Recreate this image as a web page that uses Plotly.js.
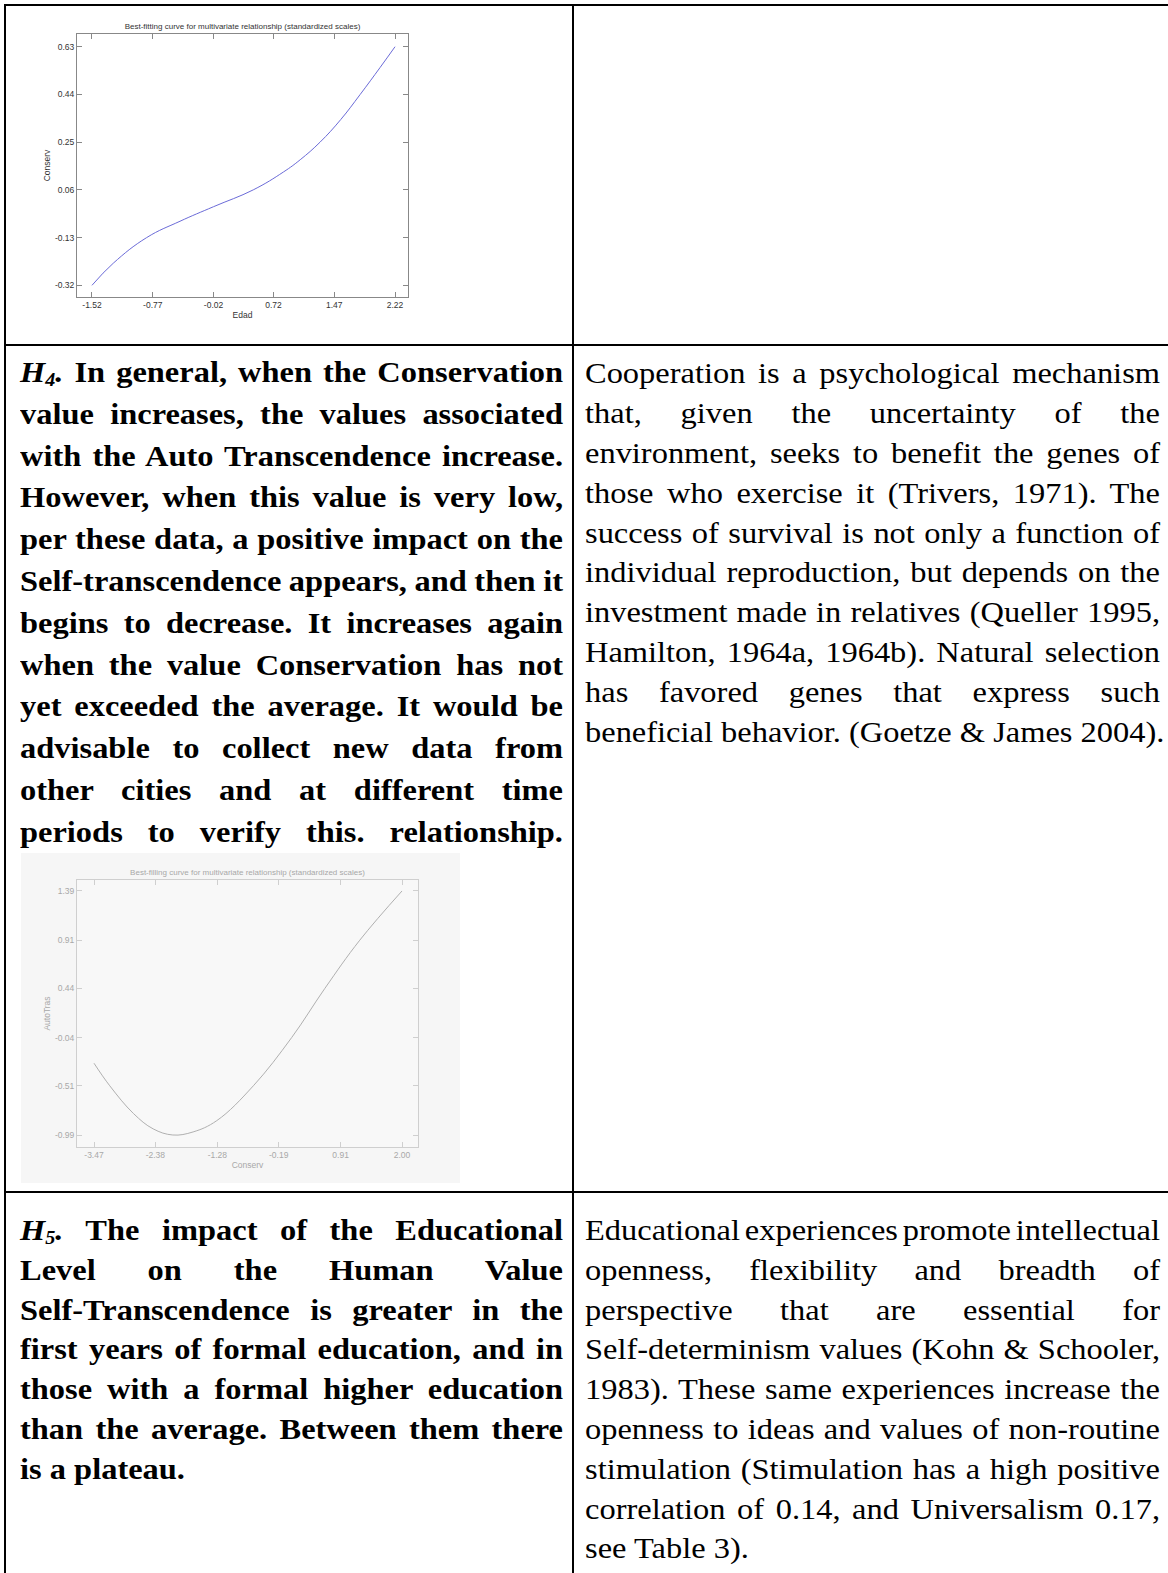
<!DOCTYPE html>
<html><head><meta charset="utf-8">
<script src="https://cdn.plot.ly/plotly-3.0.1.min.js"></script>
<style>
html,body{margin:0;padding:0;background:#fff;width:1168px;height:1573px;overflow:hidden;}
#page{position:relative;width:1168px;height:1573px;overflow:hidden;}
.hl{position:absolute;background:#000;height:2px;}
.vl{position:absolute;background:#000;width:2px;}
.ln{position:absolute;font-family:"Liberation Serif","Times New Roman",serif;color:#000;white-space:nowrap;line-height:1;font-size:29.5px;transform-origin:0 0;}
.ln span.t{white-space:nowrap;}
.b{font-weight:bold;}
sub{font-size:0.62em;vertical-align:-0.22em;line-height:0;}
#c1{position:absolute;left:0;top:0;width:420px;height:340px;}
#c2{position:absolute;left:21px;top:853px;width:439px;height:330px;}
</style></head>
<body><div id="page">
<div class="hl" style="left:4px;top:4px;width:1164px"></div>
<div class="hl" style="left:4px;top:344px;width:1164px"></div>
<div class="hl" style="left:4px;top:1191px;width:1164px"></div>
<div class="vl" style="left:4px;top:4px;height:1569px"></div>
<div class="vl" style="left:572px;top:4px;height:1569px"></div>
<div id="c1"></div>
<div id="c2"></div>
</div>
<script>
// ---- Chart 1 data: Edad vs Conserv ----
var edadX    = [-1.52, -1.257, -0.845, -0.434, -0.02, 0.47, 0.842, 1.05, 1.295, 1.55, 1.79, 2.035, 2.22];
var conservY = [-0.32, -0.232, -0.13, -0.065, -0.007, 0.06, 0.131, 0.18, 0.25, 0.34, 0.44, 0.547, 0.63];
var edadTicks    = [-1.52, -0.77, -0.02, 0.72, 1.47, 2.22];
var conservTicks = [-0.32, -0.13, 0.06, 0.25, 0.44, 0.63];

// ---- Chart 2 data: Conserv vs AutoTras ----
var conservX  = [-3.47, -3.19, -2.77, -2.42, -2.07, -1.71, -1.29, -0.64, 0.04, 0.63, 1.25, 2.00];
var autoTrasY = [-0.29, -0.51, -0.78, -0.93, -0.99, -0.96, -0.85, -0.51, -0.04, 0.44, 0.91, 1.39];
var conservXTicks = [-3.47, -2.38, -1.28, -0.19, 0.91, 2.00];
var autoTrasTicks = [-0.99, -0.51, -0.04, 0.44, 0.91, 1.39];

var chartTitle = 'Best-fitting curve for multivariate relationship (standardized scales)';
var chartTitle2 = 'Best-filling curve for multivariate relationship (standardized scales)';

function fmt(a){ return a.map(function(v){ return v.toFixed(2); }); }

function axis(range, ticks, title, col, lcol){
  return {range:range, tickvals:ticks, ticktext:fmt(ticks), ticks:'inside', ticklen:5,
    tickcolor:lcol, showline:true, linecolor:lcol, linewidth:1, mirror:'ticks',
    showgrid:false, zeroline:false, fixedrange:true,
    tickfont:{size:8.5,color:col},
    title:{text:title, standoff:2, font:{size:8.5,color:col}}};
}

Plotly.newPlot('c1', [{x:edadX, y:conservY, mode:'lines', line:{color:'#6b6bd8', width:1, shape:'spline', smoothing:1.2}, hoverinfo:'skip'}], {
  width:420, height:340, margin:{l:77,t:34,r:12,b:43,pad:0},
  paper_bgcolor:'rgba(0,0,0,0)', plot_bgcolor:'#ffffff', showlegend:false,
  font:{family:'"Liberation Sans", Arial, sans-serif', size:8.5, color:'#333'},
  title:{text:chartTitle, x:0.5, xref:'paper', xanchor:'center', y:1, yref:'paper', yanchor:'bottom', pad:{b:5}, font:{size:8,color:'#333'}},
  xaxis:axis([-1.705, 2.38], edadTicks, 'Edad', '#333', '#888'),
  yaxis:axis([-0.3666, 0.6806], conservTicks, 'Conserv', '#333', '#888')
}, {staticPlot:true, displayModeBar:false});

Plotly.newPlot('c2', [{x:conservX, y:autoTrasY, mode:'lines', line:{color:'#b0b0b0', width:1, shape:'spline', smoothing:1.1}, hoverinfo:'skip'}], {
  width:439, height:330, margin:{l:56,t:27,r:42,b:36,pad:0},
  paper_bgcolor:'#f6f6f6', plot_bgcolor:'#f8f8f8', showlegend:false,
  font:{family:'"Liberation Sans", Arial, sans-serif', size:8.5, color:'#a8a8a8'},
  title:{text:chartTitle2, x:0.5, xref:'paper', xanchor:'center', y:1, yref:'paper', yanchor:'bottom', pad:{b:5}, font:{size:8,color:'#a8a8a8'}},
  xaxis:axis([-3.772, 2.284], conservXTicks, 'Conserv', '#a8a8a8', '#cfcfcf'),
  yaxis:axis([-1.107, 1.497], autoTrasTicks, 'AutoTras', '#a8a8a8', '#cfcfcf')
}, {staticPlot:true, displayModeBar:false});

// ---- text blocks ----
var h4Lines = [
 '<i>H<sub>4</sub>.</i> In general, when the Conservation',
 'value increases, the values associated',
 'with the Auto Transcendence increase.',
 'However, when this value is very low,',
 'per these data, a positive impact on the',
 'Self-transcendence appears, and then it',
 'begins to decrease. It increases again',
 'when the value Conservation has not',
 'yet exceeded the average. It would be',
 'advisable to collect new data from',
 'other cities and at different time',
 'periods to verify this. relationship.'];
var coopLines = [
 'Cooperation is a psychological mechanism',
 'that, given the uncertainty of the',
 'environment, seeks to benefit the genes of',
 'those who exercise it (Trivers, 1971). The',
 'success of survival is not only a function of',
 'individual reproduction, but depends on the',
 'investment made in relatives (Queller 1995,',
 'Hamilton, 1964a, 1964b). Natural selection',
 'has favored genes that express such',
 'beneficial behavior. (Goetze &amp; James 2004).'];
var h5Lines = [
 '<i>H<sub>5</sub>.</i> The impact of the Educational',
 'Level on the Human Value',
 'Self-Transcendence is greater in the',
 'first years of formal education, and in',
 'those with a formal higher education',
 'than the average. Between them there',
 'is a plateau.'];
var eduLines = [
 'Educational experiences promote intellectual',
 'openness, flexibility and breadth of',
 'perspective that are essential for',
 'Self-determinism values (Kohn &amp; Schooler,',
 '1983). These same experiences increase the',
 'openness to ideas and values of non-routine',
 'stimulation (Stimulation has a high positive',
 'correlation of 0.14, and Universalism 0.17,',
 'see Table 3).'];

var SX = 1.1;
var page = document.getElementById('page');
function block(lines, x, firstBase, lh, width, bold, justifyLast){
  lines.forEach(function(html, i){
    var d = document.createElement('div');
    d.className = 'ln' + (bold ? ' b' : '');
    d.style.left = x + 'px';
    d.innerHTML = '<span class="t">' + html + '</span><span class="m" style="display:inline-block;width:0;height:0"></span>';
    page.appendChild(d);
    var sp = d.querySelector('.t'), mk = d.querySelector('.m');
    var base = mk.offsetTop;
    d.style.top = (firstBase + i*lh - base) + 'px';
    var isLast = (i === lines.length - 1);
    if (!isLast || justifyLast){
      var w = sp.getBoundingClientRect().width;
      var n = (sp.textContent.match(/ /g) || []).length;
      if (n > 0) sp.style.wordSpacing = ((width/SX - w)/n) + 'px';
    }
    d.style.transform = 'scaleX(' + SX + ')';
  });
}
block(h4Lines, 20, 382, 41.8, 543, true, true);
block(coopLines, 585, 383.4, 39.8, 575, false, false);
block(h5Lines, 20, 1240, 39.8, 543, true, false);
block(eduLines, 585, 1240, 39.8, 575, false, false);
</script>
</body></html>
